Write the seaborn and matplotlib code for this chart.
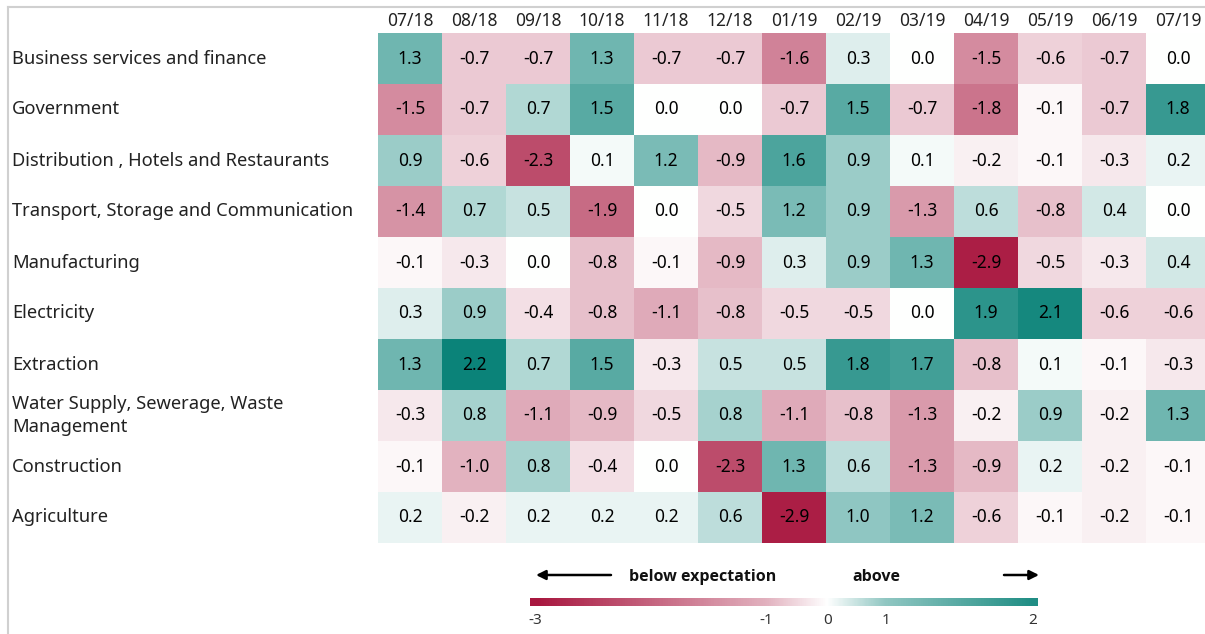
import numpy as np
import pandas as pd
import matplotlib
matplotlib.use("Agg")
import matplotlib.pyplot as plt
import matplotlib.transforms as mtransforms
from matplotlib.colors import LinearSegmentedColormap, TwoSlopeNorm
from matplotlib.lines import Line2D
import seaborn as sns

MONTHS = ["07/18", "08/18", "09/18", "10/18", "11/18", "12/18", "01/19",
          "02/19", "03/19", "04/19", "05/19", "06/19", "07/19"]

SECTORS = [
    "Business services and finance",
    "Government",
    "Distribution , Hotels and Restaurants",
    "Transport, Storage and Communication",
    "Manufacturing",
    "Electricity",
    "Extraction",
    "Water Supply, Sewerage, Waste\nManagement",
    "Construction",
    "Agriculture",
]

business = [1.3, -0.7, -0.7, 1.3, -0.7, -0.7, -1.6, 0.3, 0.0, -1.5, -0.6, -0.7, 0.0]
government = [-1.5, -0.7, 0.7, 1.5, 0.0, 0.0, -0.7, 1.5, -0.7, -1.8, -0.1, -0.7, 1.8]
distribution = [0.9, -0.6, -2.3, 0.1, 1.2, -0.9, 1.6, 0.9, 0.1, -0.2, -0.1, -0.3, 0.2]
transport = [-1.4, 0.7, 0.5, -1.9, 0.0, -0.5, 1.2, 0.9, -1.3, 0.6, -0.8, 0.4, 0.0]
manufacturing = [-0.1, -0.3, 0.0, -0.8, -0.1, -0.9, 0.3, 0.9, 1.3, -2.9, -0.5, -0.3, 0.4]
electricity = [0.3, 0.9, -0.4, -0.8, -1.1, -0.8, -0.5, -0.5, 0.0, 1.9, 2.1, -0.6, -0.6]
extraction = [1.3, 2.2, 0.7, 1.5, -0.3, 0.5, 0.5, 1.8, 1.7, -0.8, 0.1, -0.1, -0.3]
water = [-0.3, 0.8, -1.1, -0.9, -0.5, 0.8, -1.1, -0.8, -1.3, -0.2, 0.9, -0.2, 1.3]
construction = [-0.1, -1.0, 0.8, -0.4, 0.0, -2.3, 1.3, 0.6, -1.3, -0.9, 0.2, -0.2, -0.1]
agriculture = [0.2, -0.2, 0.2, 0.2, 0.2, 0.6, -2.9, 1.0, 1.2, -0.6, -0.1, -0.2, -0.1]

CB_TICKS = [-3, -1, 0, 1, 2]
# where each tick sits along the legend bar (fraction of bar width)
CB_TICK_POS = [0.010, 0.465, 0.585, 0.701, 0.990]

RED = "#a8173f"
TEAL = "#0b8379"

FONT = "Noto Sans"

df = pd.DataFrame([business, government, distribution, transport, manufacturing,
                   electricity, extraction, water, construction, agriculture],
                  index=SECTORS, columns=MONTHS)

cmap = LinearSegmentedColormap.from_list("below_above", [RED, "#ffffff", TEAL])
norm = TwoSlopeNorm(vmin=-3.0, vcenter=0.0, vmax=2.2)

W, H = 1205, 634
fig = plt.figure(figsize=(W / 100, H / 100), dpi=100)
plt.rcParams["font.family"] = [FONT, "DejaVu Sans"]

# heatmap
ax = fig.add_axes([378 / W, 1 - 543 / H, 832 / W, 510 / H])
sns.heatmap(df, ax=ax, cmap=cmap, norm=norm, cbar=False,
            annot=True, fmt=".1f",
            annot_kws={"color": "black", "fontsize": 12.5, "family": FONT})
ax.xaxis.tick_top()
ax.set_xticklabels(MONTHS, rotation=0, fontsize=12.5, color="#222222")
ax.tick_params(axis="x", length=0, pad=2)
ax.set_yticks([])
ax.set_xlabel("")
ax.set_ylabel("")

# row labels, left aligned against the figure edge
trans = mtransforms.blended_transform_factory(fig.transFigure, ax.transData)
for i, name in enumerate(SECTORS):
    ax.text(12 / W, i + 0.5, name, transform=trans, ha="left", va="center",
            fontsize=13.2, color="#222222", linespacing=1.3, clip_on=False)

# legend bar below the heatmap
cax = fig.add_axes([530 / W, 1 - 606 / H, 508 / W, 8 / H])
frac = np.linspace(0, 1, 600)
vals = np.interp(frac, CB_TICK_POS, CB_TICKS)
cax.imshow(cmap(norm(vals))[np.newaxis, :, :], aspect="auto",
           extent=[0, 1, 0, 1])
cax.set_xlim(0, 1)
cax.set_yticks([])
cax.set_xticks(CB_TICK_POS)
cax.set_xticklabels([str(t) for t in CB_TICKS], fontsize=11, color="#333333")
cax.tick_params(axis="x", length=0, pad=5)
for s in cax.spines.values():
    s.set_visible(False)

# arrows and captions
ax.annotate("", xy=(536, H - 575), xytext=(611, H - 575),
            xycoords="figure pixels", textcoords="figure pixels",
            arrowprops=dict(arrowstyle="-|>", color="black", lw=1.8,
                            mutation_scale=14, shrinkA=0, shrinkB=0))
ax.annotate("", xy=(1039, H - 575), xytext=(1004, H - 575),
            xycoords="figure pixels", textcoords="figure pixels",
            arrowprops=dict(arrowstyle="-|>", color="black", lw=1.8,
                            mutation_scale=14, shrinkA=0, shrinkB=0))
fig.text(703 / W, 1 - 577 / H, "below expectation", ha="center", va="center",
         fontsize=11.5, fontweight="bold", family="Open Sans", color="#111111")
fig.text(876 / W, 1 - 577 / H, "above", ha="center", va="center",
         fontsize=11.5, fontweight="bold", family="Open Sans", color="#111111")

# light frame at top and left
fig.add_artist(Line2D([8 / W, 1], [1 - 7 / H, 1 - 7 / H], color="#d0d0d0",
                      lw=1.5, transform=fig.transFigure))
fig.add_artist(Line2D([8 / W, 8 / W], [0, 1 - 7 / H], color="#d0d0d0",
                      lw=1.5, transform=fig.transFigure))

fig.savefig("out.png", dpi=100)
